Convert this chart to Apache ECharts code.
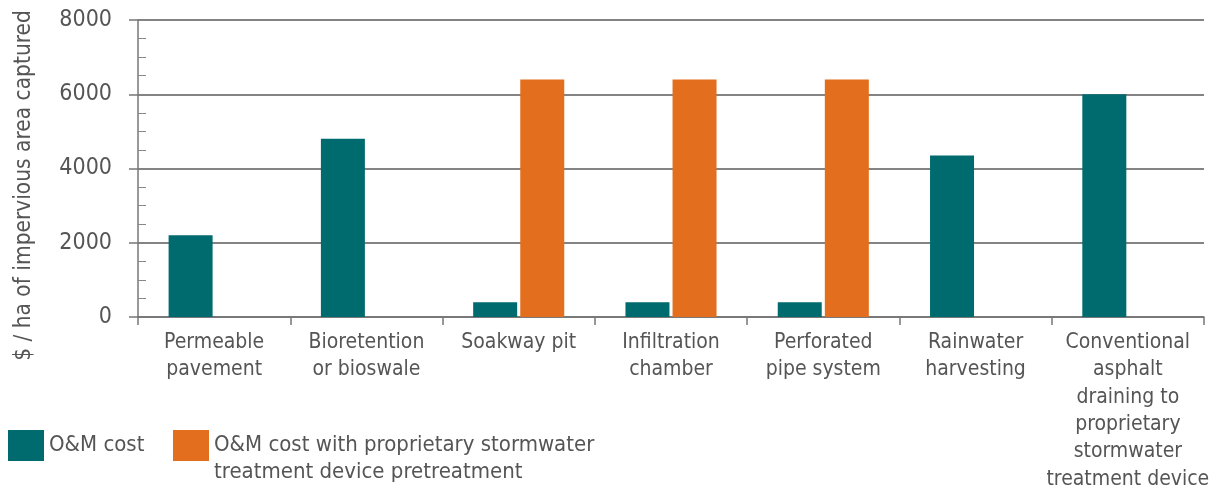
<!DOCTYPE html>
<html>
<head>
<meta charset="utf-8">
<script src="https://cdn.jsdelivr.net/npm/echarts@6/dist/echarts.min.js"></script>
<style>
html,body{margin:0;padding:0;background:#fff;}
#chart{width:1209px;height:489px;}
</style>
</head>
<body>
<div id="chart"></div>
<script>
const categories = [
  "Permeable\npavement",
  "Bioretention\nor bioswale",
  "Soakway pit",
  "Infiltration\nchamber",
  "Perforated\npipe system",
  "Rainwater\nharvesting",
  "Conventional\nasphalt\ndraining to\nproprietary\nstormwater\ntreatment device"
];
const omCost = [2200, 4800, 400, 400, 400, 4350, 6000];
const omCostPretreat = [null, null, 6400, 6400, 6400, null, null];
const seriesNames = ["O&M cost", "O&M cost with proprietary stormwater\ntreatment device pretreatment"];
const yTicks = [0, 2000, 4000, 6000, 8000];
const yAxisTitle = "$ / ha of impervious area captured";

const FONT = "'Liberation Sans Narrow', 'DejaVu Sans Condensed', 'Liberation Sans', sans-serif";
const TXT = '#555555';
const TEAL = '#006b6e';
const ORANGE = '#e36f1e';

const chart = echarts.init(document.getElementById('chart'));
chart.setOption({
  animation: false,
  textStyle: { fontFamily: FONT },
  grid: { left: 138, right: 5, top: 20, bottom: 172, containLabel: false, outerBoundsMode: 'none' },
  legend: [
    {
      data: [seriesNames[0]],
      left: 8, top: 430, padding: 0,
      itemWidth: 36, itemHeight: 31,
      icon: 'rect',
      textStyle: { fontFamily: FONT, fontSize: 22, color: TXT }
    },
    {
      data: [seriesNames[1]],
      left: 173, top: 405, padding: 0,
      itemWidth: 36, itemHeight: 31,
      icon: 'rect',
      formatter: name => '{sp| }\n' + name.split('\n').map(s => '{t|' + s + '}').join('\n'),
      textStyle: {
        fontFamily: FONT, fontSize: 22, color: TXT,
        rich: {
          sp: { fontSize: 10, lineHeight: 27, height: 27 },
          t: { fontFamily: FONT, fontSize: 22, color: TXT, lineHeight: 27 }
        }
      }
    }
  ],
  xAxis: {
    type: 'category',
    data: categories,
    axisLine: { lineStyle: { color: '#777', width: 1.5 } },
    axisTick: { show: true, length: 8, alignWithLabel: false, lineStyle: { color: '#777', width: 1.5 } },
    axisLabel: { interval: 0, color: TXT, fontFamily: FONT, fontSize: 21, lineHeight: 27.3, margin: 12 },
    splitLine: { show: false }
  },
  yAxis: [
    {
      type: 'value',
      min: yTicks[0], max: yTicks[yTicks.length - 1], interval: 2000,
      name: yAxisTitle,
      nameLocation: 'middle',
      nameGap: 102,
      nameRotate: 90,
      nameTextStyle: { color: TXT, fontFamily: FONT, fontSize: 22.5, padding: [0, 34, 0, 0] },
      axisLine: { show: true, lineStyle: { color: '#777', width: 1.5 } },
      axisTick: { show: true, length: 9, lineStyle: { color: '#777', width: 1.5 } },
      axisLabel: { color: TXT, fontFamily: FONT, fontSize: 23, margin: 26, formatter: v => String(v) },
      splitLine: { show: true, lineStyle: { color: '#5a5a5a', width: 1.5 } }
    },
    {
      type: 'value',
      position: 'left',
      min: yTicks[0], max: yTicks[yTicks.length - 1], interval: 2000,
      axisLine: { show: false },
      axisTick: { show: false, inside: true },
      axisLabel: { show: false },
      splitLine: { show: false },
      minorTick: { show: true, splitNumber: 4, length: 8, lineStyle: { color: '#888', width: 1 } }
    }
  ],
  series: [
    {
      name: seriesNames[0],
      type: 'bar',
      data: omCost,
      barWidth: 44,
      barGap: '7%',
      itemStyle: { color: TEAL }
    },
    {
      name: seriesNames[1],
      type: 'bar',
      data: omCostPretreat,
      barWidth: 44,
      itemStyle: { color: ORANGE }
    }
  ]
});
</script>
</body>
</html>
